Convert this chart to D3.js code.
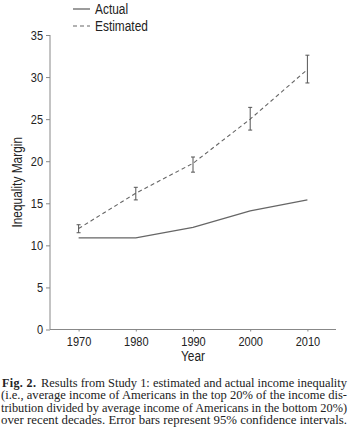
<!DOCTYPE html>
<html>
<head>
<meta charset="utf-8">
<script src="https://cdn.jsdelivr.net/npm/d3@7/dist/d3.min.js"></script>
<style>
  html, body { margin: 0; padding: 0; background: #fff; }
  svg { display: block; }
  .sans { font-family: "Liberation Sans Narrow", "Arial Narrow", "Liberation Sans", sans-serif; }
  .serif { font-family: "Liberation Serif", "DejaVu Serif", serif; }
</style>
</head>
<body>
<svg id="chart" width="350" height="434"></svg>
<script>
const years = [1970, 1980, 1990, 2000, 2010];
const actual = [10.9, 10.9, 12.15, 14.1, 15.4];
const estimated = [12.0, 16.2, 19.75, 25.0, 30.9];
const estLower = [11.5, 15.4, 18.7, 23.7, 29.3];
const estUpper = [12.45, 16.9, 20.5, 26.4, 32.6];
const yTicks = [0, 5, 10, 15, 20, 25, 30, 35];
const seriesNames = ["Actual", "Estimated"];
const captionLines = [
  ["Results from Study 1: estimated and actual income inequality", "Fig. 2."],
  ["(i.e., average income of Americans in the top 20% of the income dis-"],
  ["tribution divided by average income of Americans in the bottom 20%)"],
  ["over recent decades. Error bars represent 95% confidence intervals."]
];

const svg = d3.select("#chart");
const x = d3.scaleLinear().domain([1965, 2015]).range([50, 336]);
const y = d3.scaleLinear().domain([0, 35]).range([329.5, 35]);
const axisColor = "#888";
const lineColor = "#666";

function narrow(sel, ratio) {
  // condense text horizontally around its anchor
  sel.each(function () {
    const t = d3.select(this);
    const w = this.getComputedTextLength();
    t.attr("textLength", w * ratio).attr("lengthAdjust", "spacingAndGlyphs");
  });
}

// Y axis
const yAxis = svg.append("g").attr("transform", "translate(50,0)")
  .call(d3.axisLeft(y).tickValues(yTicks).tickSize(4).tickPadding(3).tickFormat(d3.format("d")));
yAxis.select(".domain").attr("stroke", axisColor).attr("d", `M0,${y(35)}V${y(0)}`);
yAxis.selectAll(".tick line").attr("stroke", axisColor);
yAxis.selectAll(".tick text").attr("class", "sans").attr("font-size", 12.5).attr("fill", "#222");
narrow(yAxis.selectAll(".tick text"), 0.88);

// X axis
const xAxis = svg.append("g").attr("transform", `translate(0,${y(0)})`)
  .call(d3.axisBottom(x).tickValues(years).tickSize(2).tickPadding(6).tickFormat(d3.format("d")));
xAxis.select(".domain").attr("stroke", axisColor).attr("d", `M50,0H336`);
xAxis.selectAll(".tick line").attr("stroke", axisColor);
xAxis.selectAll(".tick text").attr("class", "sans").attr("font-size", 12.5).attr("fill", "#222");
narrow(xAxis.selectAll(".tick text"), 0.88);

// Axis titles
const xt = svg.append("text").attr("class", "sans").attr("x", x(1990)).attr("y", 361)
  .attr("text-anchor", "middle").attr("font-size", 14).attr("fill", "#222").text("Year");
narrow(xt, 0.85);
const yt = svg.append("text").attr("class", "sans")
  .attr("transform", `translate(22,${(y(0) + y(35)) / 2}) rotate(-90)`)
  .attr("text-anchor", "middle").attr("font-size", 14).attr("fill", "#222").text("Inequality Margin");
narrow(yt, 0.85);

// Lines
const line = d3.line().x(d => x(d[0])).y(d => y(d[1]));
svg.append("path").datum(years.map((yr, i) => [yr, actual[i]]))
  .attr("d", line).attr("fill", "none").attr("stroke", lineColor).attr("stroke-width", 1.3);
svg.append("path").datum(years.map((yr, i) => [yr, estimated[i]]))
  .attr("d", line).attr("fill", "none").attr("stroke", lineColor).attr("stroke-width", 1.1)
  .attr("stroke-dasharray", "4,3");

// Error bars
const eb = svg.append("g").attr("stroke", "#555").attr("stroke-width", 1);
years.forEach((yr, i) => {
  const cx = x(yr);
  eb.append("line").attr("x1", cx).attr("x2", cx).attr("y1", y(estLower[i])).attr("y2", y(estUpper[i]));
  eb.append("line").attr("x1", cx - 2).attr("x2", cx + 2).attr("y1", y(estLower[i])).attr("y2", y(estLower[i]));
  eb.append("line").attr("x1", cx - 2).attr("x2", cx + 2).attr("y1", y(estUpper[i])).attr("y2", y(estUpper[i]));
});

// Legend
const legend = svg.append("g");
seriesNames.forEach((name, i) => {
  const ly = 9 + i * 17;
  legend.append("line").attr("x1", 73).attr("x2", 90).attr("y1", ly).attr("y2", ly)
    .attr("stroke", lineColor).attr("stroke-width", i === 0 ? 1.3 : 1.1)
    .attr("stroke-dasharray", i === 0 ? null : "4,3");
  const lt = legend.append("text").attr("class", "sans").attr("x", 95).attr("y", ly + 4.5)
    .attr("font-size", 14).attr("fill", "#222").text(name);
  narrow(lt, 0.85);
});

// Caption
const capG = svg.append("g").attr("class", "serif").attr("font-size", 12).attr("fill", "#222");
const baselines = [386.5, 399, 411.5, 424];
captionLines.forEach((ln, i) => {
  if (i === 0) {
    capG.append("text").attr("x", 2).attr("y", baselines[i]).attr("font-weight", "bold")
      .attr("textLength", 34).attr("lengthAdjust", "spacing").text(ln[1]);
    capG.append("text").attr("x", 41).attr("y", baselines[i])
      .attr("textLength", 347 - 41).attr("lengthAdjust", "spacingAndGlyphs").text(ln[0]);
  } else {
    capG.append("text").attr("x", 1).attr("y", baselines[i])
      .attr("textLength", 346).attr("lengthAdjust", "spacingAndGlyphs").text(ln[0]);
  }
});
</script>
</body>
</html>
